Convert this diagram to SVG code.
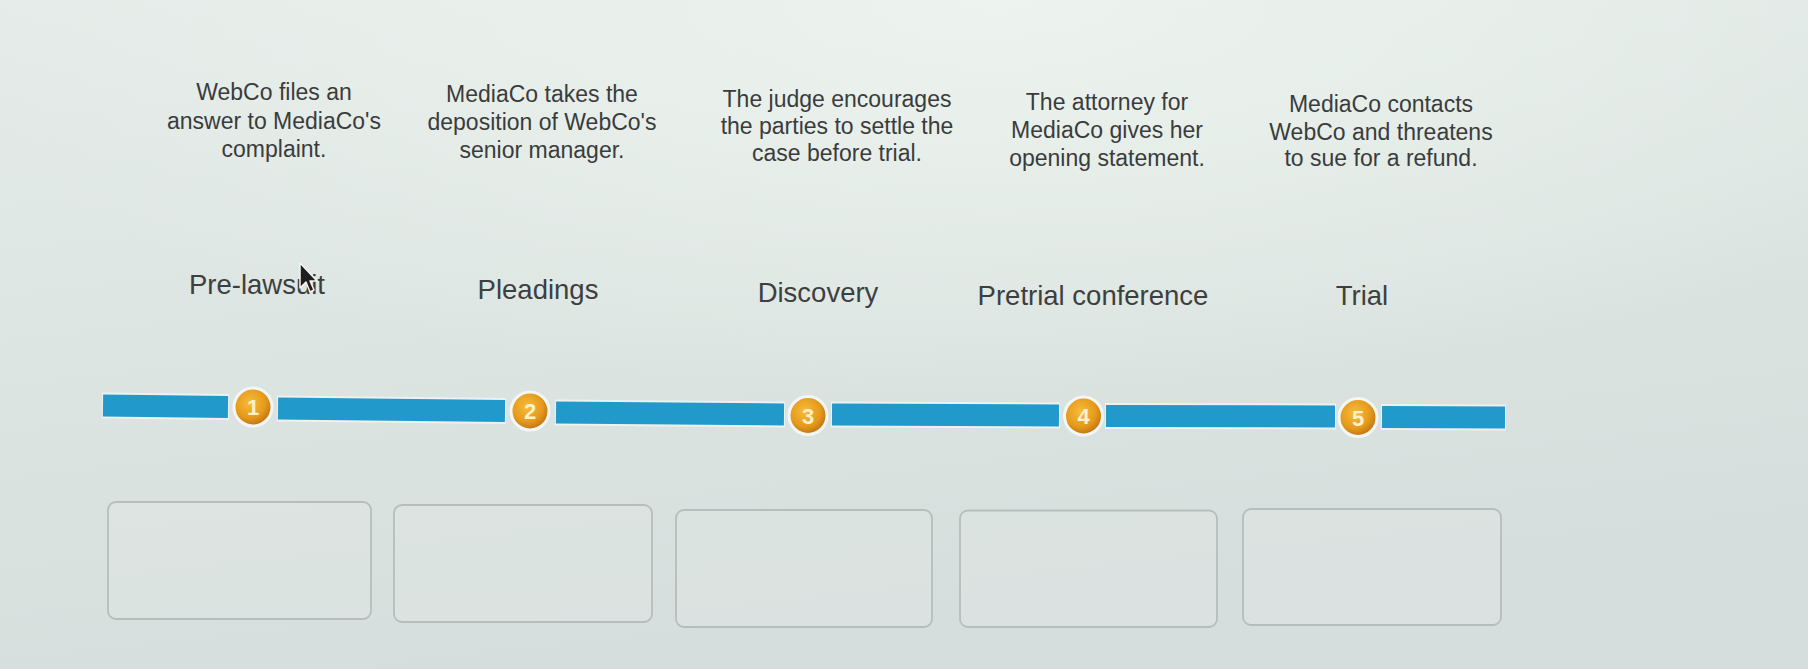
<svg xmlns="http://www.w3.org/2000/svg" width="1808" height="669" viewBox="0 0 1808 669">
  <defs>
    <linearGradient id="bg" x1="0" y1="0" x2="0.3" y2="1">
      <stop offset="0" stop-color="#e4ebe8"/>
      <stop offset="0.5" stop-color="#dde5e2"/>
      <stop offset="1" stop-color="#d6dedd"/>
    </linearGradient>
    <radialGradient id="glow" cx="0.55" cy="0" r="0.6">
      <stop offset="0" stop-color="#eef5f0" stop-opacity="0.9"/>
      <stop offset="1" stop-color="#eef5f0" stop-opacity="0"/>
    </radialGradient>
    <radialGradient id="coin" cx="0.42" cy="0.38" r="0.62">
      <stop offset="0" stop-color="#f7bc3a"/>
      <stop offset="0.65" stop-color="#e59a1c"/>
      <stop offset="1" stop-color="#c07412"/>
    </radialGradient>
    <style>
      .desc { font-family: "Liberation Sans", Arial, sans-serif; font-size: 23px; fill: #3a3c3c; text-anchor: middle; }
      .phase { font-family: "Liberation Sans", Arial, sans-serif; font-size: 27.5px; fill: #3d3f3f; text-anchor: middle; }
      .num { font-family: "Liberation Sans", Arial, sans-serif; font-size: 22px; font-weight: bold; fill: #fdf1cc; text-anchor: middle; }
      .halo { stroke: #f2f6f5; stroke-width: 26; stroke-linecap: butt; opacity: 0.8; }
      .bar { stroke: #2199cb; stroke-width: 22; stroke-linecap: butt; }
      .coin { fill: url(#coin); stroke: #f3f6f4; stroke-width: 3; }
      .box { fill: #e2e8e6; fill-opacity: 0.35; stroke: #b7bdbc; stroke-width: 1.8; }
    </style>
  </defs>

  <rect x="0" y="0" width="1808" height="669" fill="url(#bg)"/>
  <rect x="0" y="0" width="1808" height="669" fill="url(#glow)"/>

  <!-- description texts -->
  <g id="desc1">
    <text class="desc" x="274" y="100">WebCo files an</text>
    <text class="desc" x="274" y="128.5">answer to MediaCo's</text>
    <text class="desc" x="274" y="157">complaint.</text>
  </g>
  <g id="desc2">
    <text class="desc" x="542" y="101.5">MediaCo takes the</text>
    <text class="desc" x="542" y="130">deposition of WebCo's</text>
    <text class="desc" x="542" y="158">senior manager.</text>
  </g>
  <g id="desc3">
    <text class="desc" x="837" y="106.5">The judge encourages</text>
    <text class="desc" x="837" y="134">the parties to settle the</text>
    <text class="desc" x="837" y="161">case before trial.</text>
  </g>
  <g id="desc4">
    <text class="desc" x="1107" y="109.5">The attorney for</text>
    <text class="desc" x="1107" y="138">MediaCo gives her</text>
    <text class="desc" x="1107" y="166">opening statement.</text>
  </g>
  <g id="desc5">
    <text class="desc" x="1381" y="111.5">MediaCo contacts</text>
    <text class="desc" x="1381" y="140">WebCo and threatens</text>
    <text class="desc" x="1381" y="165.5">to sue for a refund.</text>
  </g>

  <!-- phase labels -->
  <g id="phase1"><text class="phase" x="257" y="294">Pre-lawsuit</text></g>
  <g id="phase2"><text class="phase" x="538" y="299">Pleadings</text></g>
  <g id="phase3"><text class="phase" x="818" y="301.5">Discovery</text></g>
  <g id="phase4"><text class="phase" x="1093" y="305">Pretrial conference</text></g>
  <g id="phase5"><text class="phase" x="1362" y="305">Trial</text></g>

  <!-- timeline connectors -->
  <g id="connectors">
    <line class="halo" x1="102" y1="405.5" x2="229" y2="407"/>
    <line class="halo" x1="277" y1="408.5" x2="506" y2="411"/>
    <line class="halo" x1="555" y1="412.5" x2="785" y2="414.5"/>
    <line class="halo" x1="831" y1="414.5" x2="1060" y2="415.5"/>
    <line class="halo" x1="1105" y1="416" x2="1336" y2="416.5"/>
    <line class="halo" x1="1381" y1="417" x2="1506" y2="417.5"/>
    <line class="bar" x1="103" y1="405.5" x2="228" y2="407"/>
    <line class="bar" x1="278" y1="408.5" x2="505" y2="411"/>
    <line class="bar" x1="556" y1="412.5" x2="784" y2="414.5"/>
    <line class="bar" x1="832" y1="414.5" x2="1059" y2="415.5"/>
    <line class="bar" x1="1106" y1="416" x2="1335" y2="416.5"/>
    <line class="bar" x1="1382" y1="417" x2="1505" y2="417.5"/>
  </g>

  <!-- step markers -->
  <g id="step1"><circle class="coin" cx="253" cy="407" r="19"/><text class="num" x="253" y="415">1</text></g>
  <g id="step2"><circle class="coin" cx="530" cy="411" r="19"/><text class="num" x="530" y="419">2</text></g>
  <g id="step3"><circle class="coin" cx="808" cy="415.5" r="19"/><text class="num" x="808" y="423.5">3</text></g>
  <g id="step4"><circle class="coin" cx="1083.5" cy="416" r="19"/><text class="num" x="1083.5" y="424">4</text></g>
  <g id="step5"><circle class="coin" cx="1358" cy="417.5" r="19"/><text class="num" x="1358" y="425.5">5</text></g>

  <!-- empty answer boxes -->
  <g id="box1"><rect class="box" x="108" y="502" width="263" height="117" rx="8"/></g>
  <g id="box2"><rect class="box" x="394" y="505" width="258" height="117" rx="8"/></g>
  <g id="box3"><rect class="box" x="676" y="510" width="256" height="117" rx="8"/></g>
  <g id="box4"><rect class="box" x="960" y="510.5" width="257" height="116.5" rx="8"/></g>
  <g id="box5"><rect class="box" x="1243" y="509" width="258" height="116" rx="8"/></g>

  <!-- mouse pointer -->
  <g id="cursor" transform="translate(300,263)">
    <polygon points="0,0 0,25 6,19 10,29 14,27 10,18 17,18" fill="#1e1e1e" stroke="#f4f4f4" stroke-width="1.5" stroke-linejoin="round"/>
  </g>
</svg>
